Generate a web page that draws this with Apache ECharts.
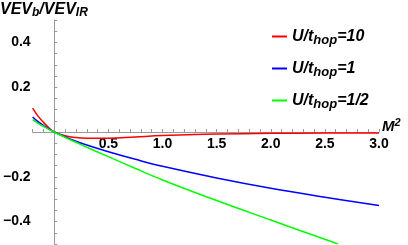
<!DOCTYPE html>
<html><head><meta charset="utf-8">
<script src="https://cdn.jsdelivr.net/npm/echarts@6/dist/echarts.min.js"></script>
<style>html,body{margin:0;padding:0;background:#fff}#c{width:408px;height:245px}</style>
</head><body><div id="c"></div>
<script>
// Data
const seriesNames = ['10', '1', '1/2'];
const xRed   = [-0.2, -0.15, -0.1, -0.05, 0, 0.1, 0.2, 0.3, 0.5, 0.75, 1.0, 1.3, 1.5, 2.0, 2.5, 3.0];
const yRed   = [0.107, 0.071, 0.043, 0.019, 0, -0.017, -0.025, -0.028, -0.028, -0.022, -0.016, -0.011, -0.009, -0.006, -0.005, -0.004];
const xBlue  = [-0.2, -0.15, -0.1, -0.05, 0, 0.1, 0.2, 0.3, 0.5, 0.75, 1.0, 1.5, 2.0, 2.5, 3.0];
const yBlue  = [0.067, 0.046, 0.029, 0.013, 0, -0.022, -0.041, -0.058, -0.088, -0.122, -0.153, -0.205, -0.251, -0.291, -0.328];
const xGreen = [-0.2, -0.15, -0.1, -0.05, 0, 0.1, 0.2, 0.3, 0.5, 0.75, 1.0, 1.5, 2.0, 2.5, 2.62];
const yGreen = [0.055, 0.039, 0.025, 0.012, 0, -0.024, -0.046, -0.068, -0.11, -0.163, -0.214, -0.306, -0.393, -0.479, -0.5];
const xLabels = [0.5, 1.0, 1.5, 2.0, 2.5, 3.0];
const yLabels = [-0.4, -0.2, 0.2, 0.4];

const xTicks = []; for (let i = -2; i <= 30; i++) xTicks.push(i / 10);
const yTicks = []; for (let i = -10; i <= 10; i++) yTicks.push(i / 20);
const zip = (xs, ys) => xs.map((x, i) => [x, ys[i]]);

const F = 'Liberation Sans, Arial, sans-serif';
const chart = echarts.init(document.getElementById('c'), null, {renderer: 'canvas'});
const lbl = {color: '#000', fontFamily: F, fontWeight: 'bold', fontSize: 14};
const bi = (size, extra) => Object.assign({fontFamily: F, fontWeight: 'bold', fontStyle: 'italic', fontSize: size, color: '#000', lineHeight: 20}, extra || {});
chart.setOption({
  animation: false,
  grid: {left: 22, right: 29, top: 20, bottom: 1, containLabel: false},
  xAxis: {
    type: 'value', min: -0.2, max: 3.0, offset: -112,
    axisLine: {onZero: false, lineStyle: {color: '#999', width: 1}},
    splitLine: {show: false},
    axisTick: {inside: true, length: 3, customValues: xTicks, lineStyle: {color: '#999'}},
    axisLabel: Object.assign({}, lbl, {customValues: xLabels, margin: 5, formatter: v => v.toFixed(1)})
  },
  yAxis: {
    type: 'value', min: -0.5, max: 0.5,
    axisLine: {onZero: true, lineStyle: {color: '#999', width: 1}},
    splitLine: {show: false},
    axisTick: {inside: true, length: 3, customValues: yTicks, lineStyle: {color: '#999'}},
    axisLabel: Object.assign({}, lbl, {customValues: yLabels, margin: 2,
      formatter: v => (v < 0 ? '\u2212' : '') + Math.abs(v).toFixed(1)})
  },
  legend: {
    orient: 'vertical', left: 267, top: 21, itemWidth: 15, itemHeight: 2, itemGap: 11,
    icon: 'rect',
    formatter: n => '{a|U/t}{s|hop}{a|=' + n + '}',
    textStyle: {rich: {a: bi(16), s: bi(13, {padding: [8, 0, 0, 0]})}},
    data: seriesNames
  },
  graphic: [
    {type: 'text', left: 0, top: 0, style: {
      text: '{a|VEV}{s|b}{a|/VEV}{s|IR}',
      rich: {a: bi(16, {fill: '#000'}), s: bi(12, {fill: '#000', padding: [7, 0, 0, 0]})}}},
    {type: 'text', left: 382, top: 117, style: {
      text: '{a|M}{p|2}',
      rich: {a: bi(15, {fill: '#000'}), p: bi(11, {fill: '#000', padding: [0, 0, 9, 0]})}}}
  ],
  series: [
    {name: seriesNames[0], type: 'line', smooth: 0.4, showSymbol: false, data: zip(xRed, yRed), lineStyle: {color: '#ff0000', width: 1.5}, itemStyle: {color: '#ff0000'}},
    {name: seriesNames[1], type: 'line', smooth: 0.4, showSymbol: false, data: zip(xBlue, yBlue), lineStyle: {color: '#0000ff', width: 1.5}, itemStyle: {color: '#0000ff'}},
    {name: seriesNames[2], type: 'line', smooth: 0.4, showSymbol: false, data: zip(xGreen, yGreen), lineStyle: {color: '#00ff00', width: 1.5}, itemStyle: {color: '#00ff00'}}
  ]
});
</script></body></html>
